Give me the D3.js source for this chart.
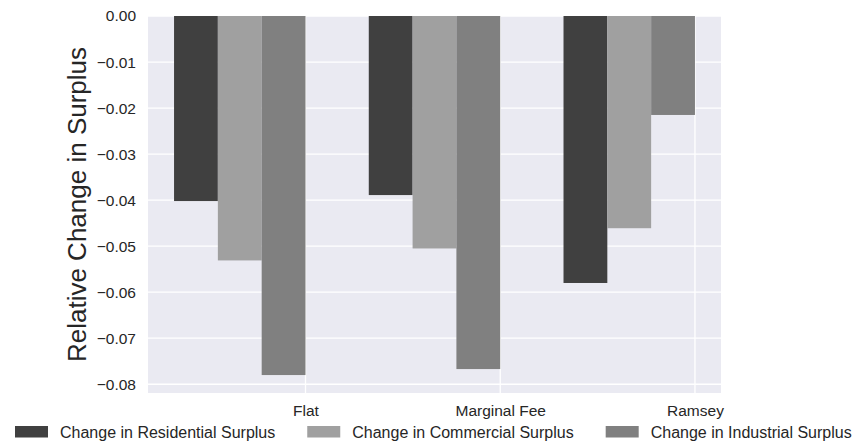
<!DOCTYPE html>
<html>
<head>
<meta charset="utf-8">
<script src="https://cdn.jsdelivr.net/npm/d3@7"></script>
<style>
  html, body { margin: 0; padding: 0; background: #fff; }
  svg { display: block; font-family: "Liberation Sans", Arial, sans-serif; }
</style>
</head>
<body>
<svg id="chart" width="855" height="444"></svg>
<script>
// ---- data ----
const categories = ["Flat", "Marginal Fee", "Ramsey"];
const seriesNames = ["Change in Residential Surplus", "Change in Commercial Surplus", "Change in Industrial Surplus"];
const residential = [-0.0402, -0.0389, -0.0580];
const commercial  = [-0.0531, -0.0505, -0.0461];
const industrial  = [-0.0780, -0.0767, -0.0215];
const yTickValues = [0, -0.01, -0.02, -0.03, -0.04, -0.05, -0.06, -0.07, -0.08];
const yLabel = "Relative Change in Surplus";

// ---- styles ----
const colors = ["#404040", "#a0a0a0", "#808080"];
const seriesValues = [residential, commercial, industrial];

const svg = d3.select("#chart");
const plot = { left: 148, right: 721, top: 16, bottom: 393 };

const barW = 0.225;
const nSeries = seriesValues.length;
const dataMinX = -nSeries * barW, dataMaxX = categories.length - 1;
const mX = 0.05 * (dataMaxX - dataMinX);
const x = d3.scaleLinear().domain([dataMinX - mX, dataMaxX + mX]).range([plot.left, plot.right]);

const allVals = seriesValues.flat();
const yMin = d3.min(allVals) * 1.05;
const y = d3.scaleLinear().domain([yMin, 0]).range([plot.bottom, plot.top]);

// background
svg.append("rect")
  .attr("x", plot.left).attr("y", plot.top)
  .attr("width", plot.right - plot.left).attr("height", plot.bottom - plot.top)
  .attr("fill", "#eaeaf2");

// grid
const gGrid = svg.append("g");
gGrid.selectAll("line.h").data(yTickValues).enter().append("line")
  .attr("x1", plot.left).attr("x2", plot.right)
  .attr("y1", d => y(d)).attr("y2", d => y(d))
  .attr("stroke", "#fff").attr("stroke-width", 1.3);
gGrid.selectAll("line.v").data(categories.map((c, i) => i)).enter().append("line")
  .attr("y1", plot.top).attr("y2", plot.bottom)
  .attr("x1", d => x(d)).attr("x2", d => x(d))
  .attr("stroke", "#fff").attr("stroke-width", 1.3);

// bars
seriesValues.forEach((vals, j) => {
  svg.append("g").selectAll("rect").data(vals).enter().append("rect")
    .attr("x", (d, i) => x(i - nSeries * barW + j * barW))
    .attr("width", x(barW) - x(0))
    .attr("y", y(0))
    .attr("height", d => y(d) - y(0))
    .attr("fill", colors[j]);
});

// y axis (labels only)
const yAxis = d3.axisLeft(y).tickValues(yTickValues).tickFormat(d3.format(".2f")).tickSize(0).tickPadding(12);
const gy = svg.append("g").attr("transform", `translate(${plot.left},0)`).call(yAxis);
gy.select(".domain").remove();
gy.selectAll("text").attr("font-size", "15.5px").attr("fill", "#262626")
  .attr("font-family", "'Liberation Sans', Arial, sans-serif");

// x axis
const xAxis = d3.axisBottom(x).tickValues(categories.map((c, i) => i)).tickFormat(i => categories[i]).tickSize(0).tickPadding(12);
const gx = svg.append("g").attr("transform", `translate(0,${plot.bottom})`).call(xAxis);
gx.select(".domain").remove();
gx.selectAll("text").attr("font-size", "15.5px").attr("fill", "#262626")
  .attr("font-family", "'Liberation Sans', Arial, sans-serif");

// y label
svg.append("text")
  .attr("transform", `translate(86,${(plot.top + plot.bottom) / 2}) rotate(-90)`)
  .attr("text-anchor", "middle")
  .attr("font-size", "26px").attr("fill", "#262626")
  .text(yLabel);

// legend
const leg = svg.append("g");
let lx = 15;
seriesNames.forEach((name, j) => {
  leg.append("rect").attr("x", lx).attr("y", 426).attr("width", 33).attr("height", 11.5).attr("fill", colors[j]);
  const t = leg.append("text").attr("x", lx + 45).attr("y", 438)
    .attr("font-size", "16px").attr("fill", "#262626").text(name);
  const w = t.node().getComputedTextLength();
  lx = lx + 45 + w + 32;
});
</script>
</body>
</html>
